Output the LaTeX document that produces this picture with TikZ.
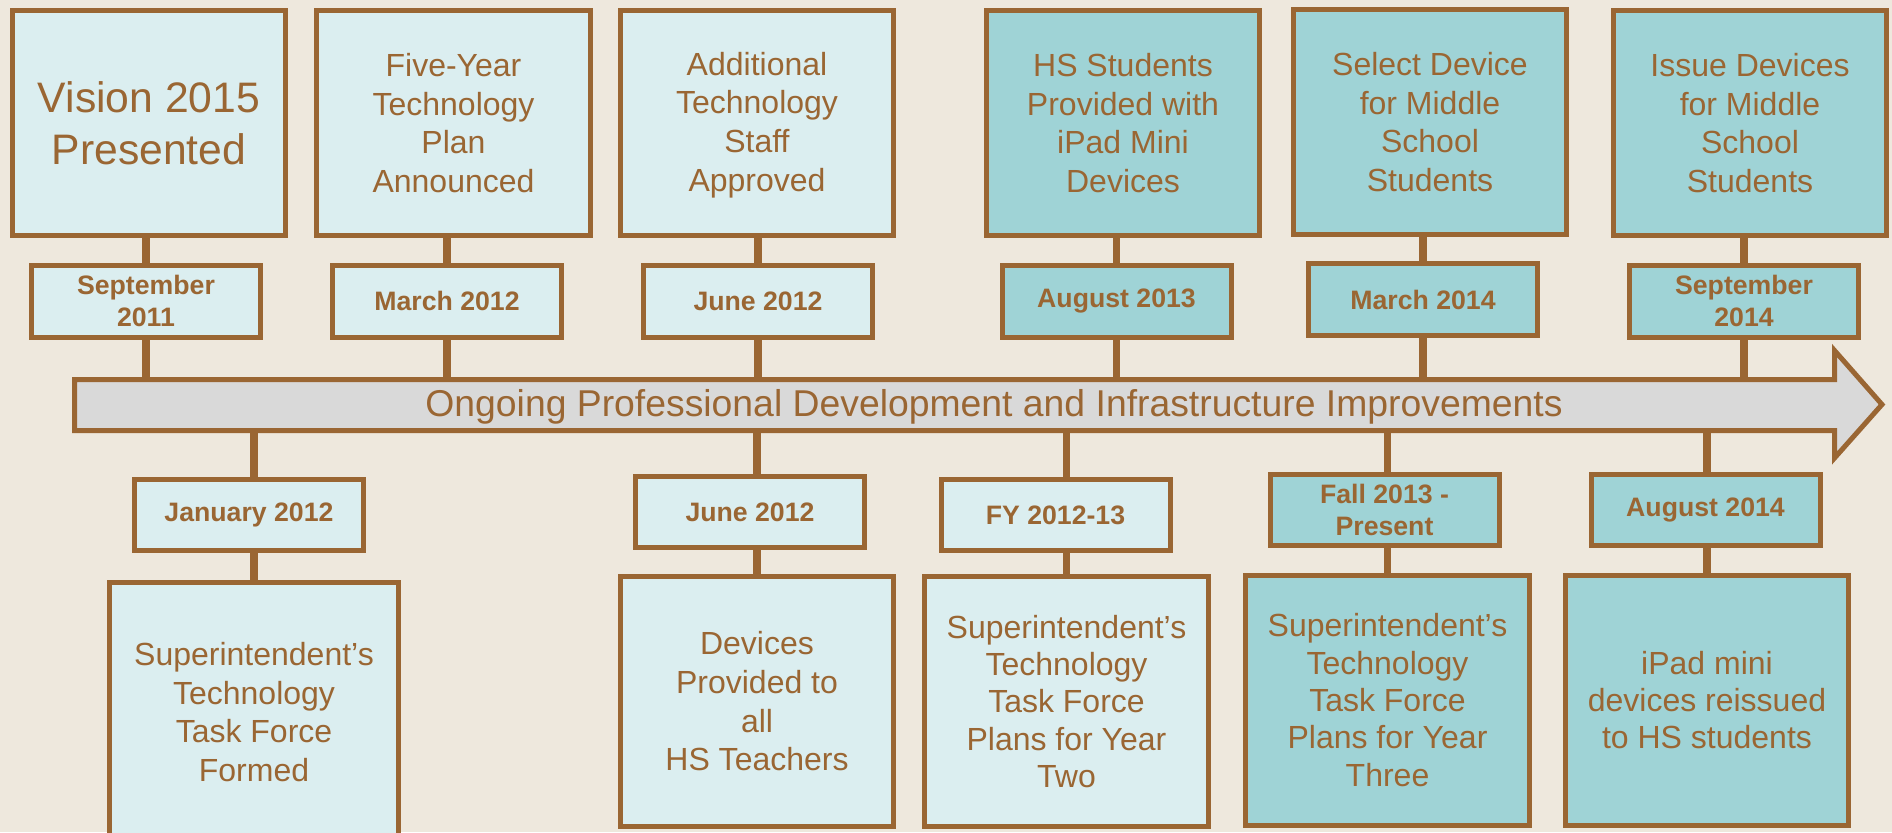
\documentclass[tikz,border=0pt]{standalone}
\usepackage{fontspec}
\setmainfont{Liberation Sans}
\usetikzlibrary{positioning}
\definecolor{timebrown}{HTML}{9A6633}
\definecolor{linen}{HTML}{EEE8DD}
\definecolor{palecyan}{HTML}{DBEEF0}
\definecolor{tealfill}{HTML}{9FD3D6}
\definecolor{bargray}{HTML}{D9D9D9}

\begin{document}
\begin{tikzpicture}[x=0.75pt, y=-0.75pt,
    box/.style={draw=timebrown, line width=3.75pt, text=timebrown, align=center, inner sep=0pt},
    event/.style={box, font=\fontsize{24}{29}\selectfont},
    when/.style={box, font=\fontsize{20}{23.5}\selectfont\bfseries, minimum width=171.75pt},
    light/.style={fill=palecyan},
    dark/.style={fill=tealfill},
    link/.style={draw=timebrown, line width=5.6pt}]
      \useasboundingbox (0,0) rectangle (1892,832);
      \fill[linen] (0,0) rectangle (1892,832);
      \clip (0,0) rectangle (1892,832);
      % timeline bar
      \draw[fill=bargray, draw=timebrown, line width=3.75pt, line join=miter]
        (74.5,379.5) -- (1834.5,379.5) -- (1834.5,350.5) -- (1882,404.5)
        -- (1834.5,458) -- (1834.5,430.5) -- (74.5,430.5) -- cycle;
      \node[text=timebrown, font=\fontsize{28}{33}\selectfont] (bar_text) at (994,407)
        {Ongoing Professional Development and Infrastructure Improvements};
      \coordinate (bar_top) at (0,379.5);
      \coordinate (bar_bot) at (0,430.5);
      % events above the bar
      \node[event, light, minimum width=205pt, minimum height=168.75pt, font=\fontsize{32}{39}\selectfont]
                             (up_1) at (149,123)    {Vision 2015\\Presented};
      \node[event, light, minimum width=205pt, minimum height=168.75pt]
                             (up_2) at (453.5,123)  {Five-Year\\Technology\\Plan\\Announced};
      \node[event, light, minimum width=205pt, minimum height=168.75pt]
                             (up_3) at (757,123)    {\strut Additional\\Technology\\Staff\\Approved};
      \node[event, dark, minimum width=205pt, minimum height=168.75pt]
                             (up_4) at (1123,123)   {HS Students\\Provided with\\iPad Mini\\Devices};
      \node[event, dark, minimum width=205pt, minimum height=168.75pt]
                             (up_5) at (1430,122)   {Select Device\\for Middle\\School\\Students};
      \node[event, dark, minimum width=205pt, minimum height=168.75pt]
                             (up_6) at (1750,123)   {Issue Devices\\for Middle\\School\\Students};
      % events below the bar
      \node[event, light, minimum width=216.75pt, minimum height=195pt]
                             (down_1) at (254,712)    {Superintendent’s\\Technology\\Task Force\\Formed};
      \node[event, light, minimum width=204.75pt, minimum height=187.5pt]
                             (down_2) at (757,701.5)  {Devices\\Provided to\\all\\HS Teachers};
      \node[event, light, minimum width=213pt, minimum height=187.5pt, font=\fontsize{24}{28}\selectfont]
                             (down_3) at (1066.5,701.5) {Superintendent’s\\Technology\\Task Force\\Plans for Year\\Two};
      \node[event, dark, minimum width=213pt, minimum height=187.5pt, font=\fontsize{24}{28}\selectfont]
                             (down_4) at (1387.5,700) {Superintendent’s\\Technology\\Task Force\\Plans for Year\\Three};
      \node[event, dark, minimum width=212.25pt, minimum height=187.5pt, font=\fontsize{24}{28}\selectfont]
                             (down_5) at (1707,700)   {iPad mini\\devices reissued\\to HS students};
      % dates
      \node[when, light, minimum height=54pt] (up_date_1) at (146,301)    {September\\2011};
      \node[when, light, minimum height=54pt] (up_date_2) at (447,301)    {March 2012};
      \node[when, light, minimum height=54pt] (up_date_3) at (758,301)    {June 2012};
      \node[when, dark, minimum height=54pt]  (up_date_4) at (1116.5,301) {August 2013};
      \node[when, dark, minimum height=54pt]  (up_date_5) at (1423,299.5) {March 2014};
      \node[when, dark, minimum height=54pt]  (up_date_6) at (1744,301)   {September\\2014};
      \node[when, light, minimum height=53.25pt] (down_date_1) at (249,515)    {January 2012};
      \node[when, light, minimum height=53.25pt] (down_date_2) at (750,512)    {June 2012};
      \node[when, light, minimum height=53.25pt] (down_date_3) at (1055.5,515) {FY 2012-13};
      \node[when, dark, minimum height=53.25pt]  (down_date_4) at (1384.5,510) {Fall 2013 -\\Present};
      \node[when, dark, minimum height=53.25pt]  (down_date_5) at (1705.5,510) {August 2014};
      % connectors
      \path[link]
        (up_date_1.north) edge (up_date_1.north |- up_1.south)
        (up_date_1.south) edge (up_date_1.south |- bar_top)
        (up_date_2.north) edge (up_date_2.north |- up_2.south)
        (up_date_2.south) edge (up_date_2.south |- bar_top)
        (up_date_3.north) edge (up_date_3.north |- up_3.south)
        (up_date_3.south) edge (up_date_3.south |- bar_top)
        (up_date_4.north) edge (up_date_4.north |- up_4.south)
        (up_date_4.south) edge (up_date_4.south |- bar_top)
        (up_date_5.north) edge (up_date_5.north |- up_5.south)
        (up_date_5.south) edge (up_date_5.south |- bar_top)
        (up_date_6.north) edge (up_date_6.north |- up_6.south)
        (up_date_6.south) edge (up_date_6.south |- bar_top)
        (down_1.north) edge (down_1.north |- down_date_1.south)
        (down_1.north |- down_date_1.north) edge (down_1.north |- bar_bot)
        (down_2.north) edge (down_2.north |- down_date_2.south)
        (down_2.north |- down_date_2.north) edge (down_2.north |- bar_bot)
        (down_3.north) edge (down_3.north |- down_date_3.south)
        (down_3.north |- down_date_3.north) edge (down_3.north |- bar_bot)
        (down_4.north) edge (down_4.north |- down_date_4.south)
        (down_4.north |- down_date_4.north) edge (down_4.north |- bar_bot)
        (down_5.north) edge (down_5.north |- down_date_5.south)
        (down_5.north |- down_date_5.north) edge (down_5.north |- bar_bot);
\end{tikzpicture}
\end{document}
